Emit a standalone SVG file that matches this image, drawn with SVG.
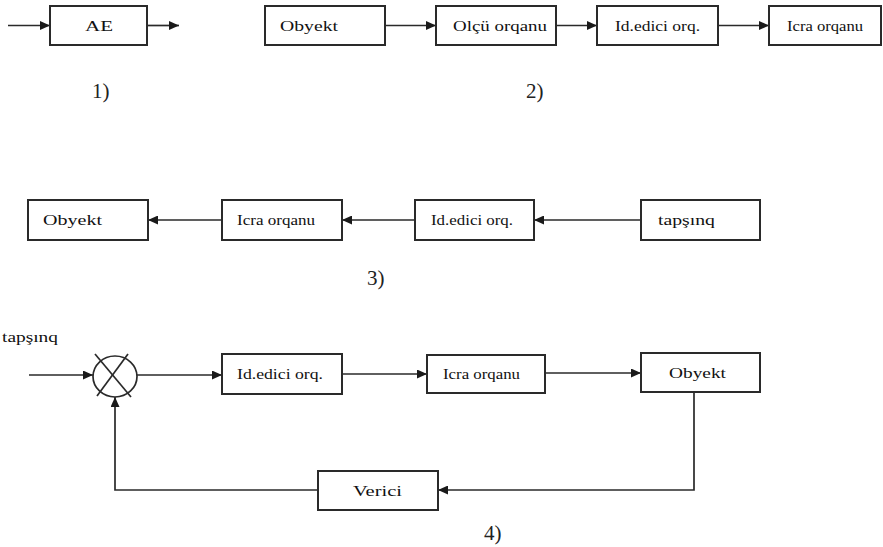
<svg xmlns="http://www.w3.org/2000/svg" width="883" height="547" viewBox="0 0 883 547">
<style>
.box{fill:#fff;stroke:#2a2a2a;stroke-width:2}
.ln{fill:none;stroke:#2a2a2a;stroke-width:1.7}
.arr{marker-end:url(#ah)}
.t{font-family:"Liberation Serif","Times New Roman",serif;font-size:15px;fill:#111}
.n{font-family:"Liberation Serif","Times New Roman",serif;font-size:21px;fill:#222}
</style>
<defs>
<marker id="ah" markerUnits="userSpaceOnUse" markerWidth="11" markerHeight="9" refX="10" refY="4.5" orient="auto">
<path d="M0,0 L10,4.5 L0,9 z" fill="#1a1a1a"/>
</marker>
</defs>
<rect width="883" height="547" fill="#fff"/>
<g id="connectors">
<line class="ln arr" x1="8" y1="25.5" x2="50" y2="25.5"/>
<line class="ln arr" x1="147" y1="25.5" x2="179" y2="25.5"/>
<line class="ln arr" x1="385" y1="25.5" x2="436" y2="25.5"/>
<line class="ln arr" x1="556" y1="25.5" x2="597" y2="25.5"/>
<line class="ln arr" x1="718" y1="25.5" x2="769" y2="25.5"/>
<line class="ln arr" x1="641" y1="220" x2="534" y2="220"/>
<line class="ln arr" x1="415" y1="220" x2="342" y2="220"/>
<line class="ln arr" x1="222" y1="220" x2="148" y2="220"/>
<line class="ln arr" x1="29" y1="375" x2="93" y2="375"/>
<line class="ln arr" x1="137" y1="375" x2="222" y2="375"/>
<line class="ln arr" x1="342" y1="374" x2="427" y2="374"/>
<line class="ln arr" x1="545" y1="373" x2="641" y2="373"/>
<polyline class="ln arr" points="694,392 694,490 438,490"/>
<polyline class="ln arr" points="318,490 115,490 115,397"/>
</g>
<g id="n1-ae"><rect class="box" x="50" y="6" width="97" height="39"/><text class="t" x="85" y="31" textLength="28" lengthAdjust="spacingAndGlyphs">AE</text></g>
<g id="n2-obyekt"><rect class="box" x="265" y="6" width="120" height="39"/><text class="t" x="280" y="31" textLength="58" lengthAdjust="spacingAndGlyphs">Obyekt</text></g>
<g id="n2-olcu"><rect class="box" x="436" y="6" width="120" height="39"/><text class="t" x="453" y="31" textLength="94" lengthAdjust="spacingAndGlyphs">Olçü orqanu</text></g>
<g id="n2-idedici"><rect class="box" x="597" y="6" width="121" height="39"/><text class="t" x="615" y="31" textLength="85" lengthAdjust="spacingAndGlyphs">Id.edici orq.</text></g>
<g id="n2-icra"><rect class="box" x="769" y="6" width="112" height="39"/><text class="t" x="787" y="31" textLength="76" lengthAdjust="spacingAndGlyphs">Icra orqanu</text></g>
<g id="n3-obyekt"><rect class="box" x="28" y="200" width="120" height="40"/><text class="t" x="43" y="225" textLength="59" lengthAdjust="spacingAndGlyphs">Obyekt</text></g>
<g id="n3-icra"><rect class="box" x="222" y="200" width="120" height="40"/><text class="t" x="237" y="225" textLength="78" lengthAdjust="spacingAndGlyphs">Icra orqanu</text></g>
<g id="n3-idedici"><rect class="box" x="415" y="200" width="119" height="40"/><text class="t" x="431" y="225" textLength="82" lengthAdjust="spacingAndGlyphs">Id.edici orq.</text></g>
<g id="n3-tapsinq"><rect class="box" x="641" y="200" width="119" height="40"/><text class="t" x="658" y="225" textLength="57" lengthAdjust="spacingAndGlyphs">tapşınq</text></g>
<g id="n4-input"><text class="t" x="2" y="342" textLength="56" lengthAdjust="spacingAndGlyphs">tapşınq</text></g>
<g id="n4-sum"><ellipse cx="115" cy="376.5" rx="22" ry="20.5" fill="#fff" stroke="#2a2a2a" stroke-width="1.7"/><line class="ln" x1="95" y1="354" x2="131" y2="397"/><line class="ln" x1="128" y1="354" x2="97" y2="396"/></g>
<g id="n4-idedici"><rect class="box" x="222" y="354" width="120" height="40"/><text class="t" x="237" y="379" textLength="86" lengthAdjust="spacingAndGlyphs">Id.edici orq.</text></g>
<g id="n4-icra"><rect class="box" x="427" y="355" width="118" height="38"/><text class="t" x="443" y="379" textLength="77" lengthAdjust="spacingAndGlyphs">Icra orqanu</text></g>
<g id="n4-obyekt"><rect class="box" x="641" y="353" width="119" height="39"/><text class="t" x="669" y="378" textLength="57" lengthAdjust="spacingAndGlyphs">Obyekt</text></g>
<g id="n4-verici"><rect class="box" x="318" y="471" width="120" height="39"/><text class="t" x="353" y="496" textLength="49" lengthAdjust="spacingAndGlyphs">Verici</text></g>
<g id="labels">
<text class="n" x="92" y="98">1)</text>
<text class="n" x="526" y="98">2)</text>
<text class="n" x="367" y="285">3)</text>
<text class="n" x="484" y="540">4)</text>
</g>
</svg>
